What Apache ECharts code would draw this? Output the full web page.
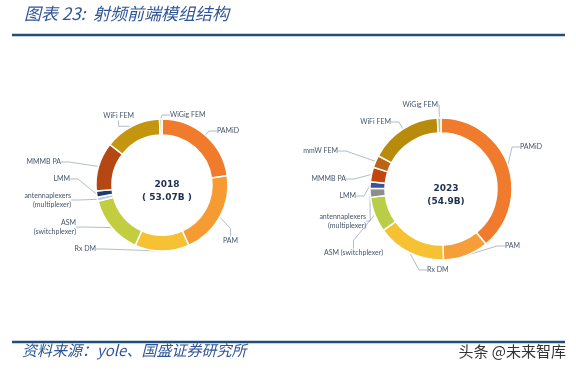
<!DOCTYPE html>
<html>
<head>
<meta charset="utf-8">
<script src="https://cdn.jsdelivr.net/npm/echarts@6/dist/echarts.min.js"></script>
<style>
  html, body { margin: 0; padding: 0; background: #fff; }
  #chart { width: 576px; height: 376px; }
</style>
</head>
<body>
<div id="chart"></div>
<script>
// 2018 模组结构 (份额 %，从图上估读，顺时针自顶部起)
var names2018 = ["PAMiD", "PAM", "Rx DM", "ASM\n(switchplexer)", "antennaplexers\n(multiplexer)", "LMM", "MMMB PA", "WiFi FEM", "WiGig FEM"];
var values2018 = [22.8, 20.6, 13.3, 14.4, 1.0, 1.5, 12.0, 13.9, 0.6];
var colors2018 = ["#f07b2c", "#f59b32", "#f6c133", "#c3cd40", "#b9cde2", "#1f3b6a", "#b54812", "#c4960f", "#b9d2a2"];

// 2023
var names2023 = ["PAMiD", "PAM", "Rx DM", "ASM (switchplexer)", "antennaplexers\n(multiplexer)", "LMM", "MMMB PA", "mmW FEM", "WiFi FEM", "WiGig FEM"];
var values2023 = [39.0, 10.3, 15.6, 8.0, 2.0, 1.5, 3.3, 2.8, 16.4, 0.8];
var colors2023 = ["#f07b2c", "#f59e3a", "#f6c234", "#b9cd46", "#8e8e8e", "#3b52a2", "#c1460f", "#bd6316", "#b98b0d", "#a9c991"];

var centerText = ["2018\n( 53.07B )", "2023\n(54.9B)"];

// 标签摆放位置 [x, y, 对齐]
var labelPos2018 = [[217, 131, "left"], [223, 241, "left"], [96, 249, "right"], [76, 227, "right"],
  [71, 200, "right"], [70, 179, "right"], [61, 162, "right"], [134, 116, "right"], [170, 115, "left"]];
var labelPos2023 = [[520, 147, "left"], [505, 246, "left"], [427, 270, "left"], [383, 253, "right"],
  [366, 221, "right"], [356, 196, "right"], [346, 179, "right"], [338, 151, "right"], [391, 122, "right"], [438, 105, "right"]];

function buildData(names, values, colors) {
  var arr = [];
  for (var i = 0; i < names.length; i++) {
    arr.push({ name: names[i], value: values[i], itemStyle: { color: colors[i] } });
  }
  return arr;
}

function pieSeries(center, radius, data, pos) {
  return {
    type: "pie",
    center: center,
    radius: radius,
    startAngle: 90,
    clockwise: true,
    silent: true,
    itemStyle: { borderColor: "#fff", borderWidth: 1.5 },
    label: {
      show: true,
      position: "outside",
      formatter: "{b}",
      fontSize: 7,
      lineHeight: 9,
      color: "#44546a",
      fontFamily: "Lato"
    },
    labelLine: {
      show: true,
      length: 8,
      length2: 8,
      lineStyle: { color: "#9eabbb", width: 0.8 }
    },
    labelLayout: function (params) {
      var p = pos[params.dataIndex];
      return { x: p[0], y: p[1], align: p[2], verticalAlign: "middle", moveOverlap: null };
    },
    data: data
  };
}

var myChart = echarts.init(document.getElementById("chart"));
var option = {
  backgroundColor: "#fff",
  animation: false,
  title: [
    {
      text: centerText[0],
      left: 162, top: 173,
      textAlign: "center",
      textStyle: { fontSize: 9, fontWeight: "bold", color: "#1f3050", lineHeight: 13, fontFamily: "DejaVu Sans" }
    },
    {
      text: centerText[1],
      left: 441, top: 177,
      textAlign: "center",
      textStyle: { fontSize: 9, fontWeight: "bold", color: "#1f3050", lineHeight: 13, fontFamily: "DejaVu Sans" }
    }
  ],
  graphic: [
    {
      type: "text", left: 24, top: 5,
      style: { text: "图表 23:  射频前端模组结构", fontSize: 17, fontStyle: "italic", fill: "#2f5597", fontFamily: "Noto Sans CJK SC" }
    },
    {
      type: "line", shape: { x1: 12, y1: 35, x2: 565, y2: 35 },
      style: { stroke: "#1f4e79", lineWidth: 2.5 }
    },
    {
      type: "line", shape: { x1: 12, y1: 342, x2: 565, y2: 342 },
      style: { stroke: "#1f4e79", lineWidth: 2.5 }
    },
    {
      type: "text", left: 22, top: 343,
      style: { text: "资料来源：yole、国盛证券研究所", fontSize: 15, fontStyle: "italic", fill: "#2f5597", fontFamily: "Noto Sans CJK SC" }
    },
    {
      type: "text", right: 10, top: 344,
      style: { text: "头条 @未来智库", fontSize: 15, fill: "#333", fontFamily: "Noto Sans CJK SC" }
    }
  ],
  series: [
    pieSeries([162, 185], [50, 66], buildData(names2018, values2018, colors2018), labelPos2018),
    pieSeries([441, 189], [56, 71], buildData(names2023, values2023, colors2023), labelPos2023)
  ]
};
myChart.setOption(option);
window.addEventListener("resize", function () {
  myChart.resize();
});
</script>
</body>
</html>
